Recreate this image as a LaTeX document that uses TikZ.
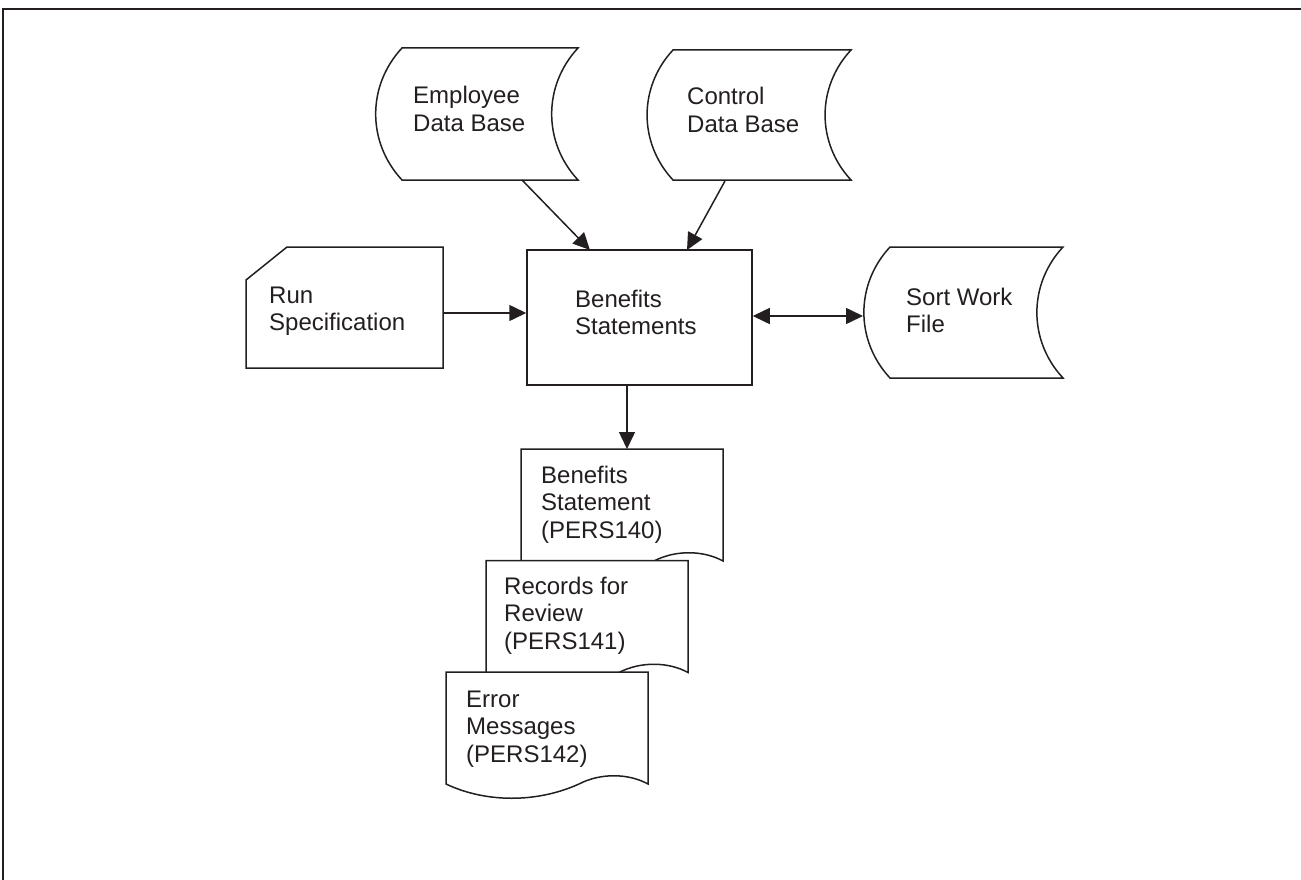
\documentclass[tikz,border=0pt]{standalone}
\usepackage{fontspec}
\setmainfont{Liberation Sans}
\usetikzlibrary{arrows.meta}

% left-aligned multi-line text whose reference point is the first baseline
\newcommand{\lineset}[1]{\begin{tabular}[t]{@{}l@{}}#1\end{tabular}}

% stored-data symbol: both sides are arcs bulging to the left
% #1 left x, #2 right x, #3 top y, #4 bottom y
\newcommand{\storeddata}[4]{%
  \path[symbol] (#1,#3) -- (#2,#3) to[bend right=43] (#2,#4)
    -- (#1,#4) to[bend left=43] (#1,#3) -- cycle;}

\definecolor{ink}{HTML}{231F20}

\tikzset{
  symbol/.style={draw=ink, line width=1.5pt, fill=white, line join=miter},
  flow/.style={draw=ink, line width=1.5pt, -{Triangle[length=17pt,width=16pt]}},
  twoway/.style={draw=ink, line width=1.5pt, {Triangle[length=17pt,width=16pt]}-{Triangle[length=17pt,width=16pt]}},
  caption/.style={font=\fontsize{24}{27.5}\selectfont, text=ink, inner sep=0pt, anchor=base west},
  document/.pic={
    \path[symbol] (0,0) -- (202,0) -- (202,112)
      .. controls (182,101) and (154,101) .. (133,112)
      .. controls (91,131) and (40,131) .. (0,112) -- cycle;
  }
}

\begin{document}
\begin{tikzpicture}[x=1pt,y=-1pt]
\useasboundingbox (0,0) rectangle (1301,880);

% page frame (top and left rules)
\draw[ink, line width=1.3pt] (3,880) -- (3,9) -- (1301,9);

% data stores
\storeddata{402}{578}{48}{180}
\storeddata{673}{851}{50}{180}
\storeddata{890}{1063}{247}{378}

% punched-card input
\path[symbol] (246,368) -- (246,280) -- (287,247) -- (443,247) -- (443,368) -- cycle;

% process box
\node[symbol, inner sep=0pt, minimum width=225pt, minimum height=135pt] (proc) at (639.5,317.5) {};

% printed reports, stacked
\pic at (521,449) {document};
\pic at (486,560.5) {document};
\pic at (446,672) {document};

% labels
\node[caption] (emp)  at (413,104) {\lineset{Employee\\Data Base}};
\node[caption] (ctl)  at (687,105) {\lineset{Control\\Data Base}};
\node[caption] (run)  at (269,303) {\lineset{Run\\Specification}};
\node[caption] (ben)  at (575,307) {\lineset{Benefits\\Statements}};
\node[caption] (sort) at (906,305) {\lineset{Sort Work\\File}};
\node[caption] (r140) at (541,483) {\lineset{Benefits\\Statement\\(PERS140)}};
\node[caption] (r141) at (504,594) {\lineset{Records for\\Review\\(PERS141)}};
\node[caption] (r142) at (466,707) {\lineset{Error\\Messages\\(PERS142)}};

% connection points
\coordinate (empout)  at (522,180);
\coordinate (ctlout)  at (725,181);
\coordinate (runout)  at (443,313);
\coordinate (procin1) at (590,250);
\coordinate (procin2) at (687,250);
\coordinate (procin3) at (proc.west |- runout);
\coordinate (procout) at (627,385);
\coordinate (procside) at (proc.east |- 0,316);
\coordinate (sortin)  at (863,316);
\coordinate (docin)   at (627,449);

% connectors
\draw[flow] (empout) -- (procin1);
\draw[flow] (ctlout) -- (procin2);
\draw[flow] (runout) -- (procin3);
\draw[twoway] (procside) -- (sortin);
\draw[flow] (procout) -- (docin);
\end{tikzpicture}
\end{document}
